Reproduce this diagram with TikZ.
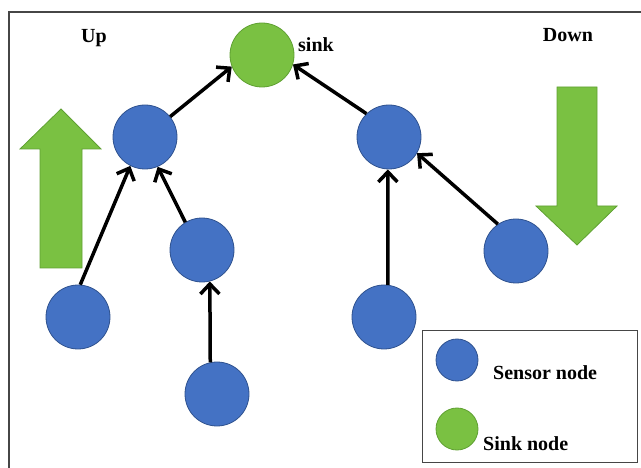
\documentclass[tikz,border=0pt]{standalone}
\usepackage{fontspec}
\setmainfont{Liberation Serif}
\usetikzlibrary{arrows.meta}
\definecolor{nodeblue}{RGB}{68,114,196}
\definecolor{nodeblueline}{RGB}{47,82,143}
\definecolor{sinkgreen}{RGB}{122,193,66}
\definecolor{sinkgreenline}{RGB}{95,160,50}
\definecolor{framegray}{RGB}{70,70,70}
\tikzset{
  sensor/.style={circle, fill=nodeblue, draw=nodeblueline, line width=0.8pt,
                 minimum size=64pt, inner sep=0pt},
  sinknode/.style={circle, fill=sinkgreen, draw=sinkgreenline, line width=0.8pt,
                   minimum size=64pt, inner sep=0pt},
  smallsensor/.style={sensor, minimum size=42pt},
  smallsink/.style={sinknode, minimum size=42pt},
  label/.style={font=\bfseries\fontsize{20}{24}\selectfont, inner sep=0pt},
  link/.style={line width=3.5pt, black, -{Straight Barb[length=10pt,width=19pt]}},
  flow/.style={fill=sinkgreen, draw=sinkgreenline, line width=0.8pt},
}
\begin{document}
\begin{tikzpicture}[x=1pt, y=-1pt]
  \useasboundingbox (0,0) rectangle (641,468);
  \clip (0,0) rectangle (641,468);
  % outer frame
  \draw[framegray, line width=1.2pt] (9,12) rectangle (660,490);

  % direction arrows
  \draw[flow] (40,268) -- (40,149) -- (20,149) -- (61,109) -- (101,149)
              -- (82,149) -- (82,268) -- cycle;
  \draw[flow] (557,87) -- (597,87) -- (597,206) -- (617,206) -- (577,245)
              -- (536,206) -- (557,206) -- cycle;

  % labels
  \node[label, anchor=base] (up) at (94,43) {Up};
  \node[label, anchor=base] (down) at (568,42) {Down};

  % tree
  \node[sinknode] (sink) at (262,55) {};
  \node[label, anchor=base west] (sinklbl) at (298,52) {sink};
  \node[sensor] (a) at (145,137) {};
  \node[sensor] (b) at (389,137) {};
  \node[sensor] (c) at (202,250) {};
  \node[sensor] (d) at (78,317) {};
  \node[sensor] (e) at (217,394) {};
  \node[sensor] (f) at (384,317) {};
  \node[sensor] (g) at (516,251) {};

  \draw[link] (a.39) -- (sink.201);
  \draw[link] (b.134) -- (sink.-17);
  \draw[link] (d.86) -- (a.-117);
  \draw[link] (c.121) -- (a.-67);
  \draw[link] (e.102) -- (c.-76);
  \draw[link] (f.83) -- (b.-92);
  \draw[link] (g.124) -- (b.-30);

  % legend
  \node[draw=framegray, line width=1.2pt, minimum width=215pt, minimum height=132pt,
        inner sep=0pt, anchor=north west] (legend) at (422,330) {};
  \node[smallsensor] (lsensor) at (457,360) {};
  \node[smallsink] (lsink) at (457,429) {};
  \node[label, anchor=base west] (lsensortxt) at (493,380) {Sensor node};
  \node[label, anchor=base west] (lsinktxt) at (483,450) {Sink node};
\end{tikzpicture}
\end{document}
